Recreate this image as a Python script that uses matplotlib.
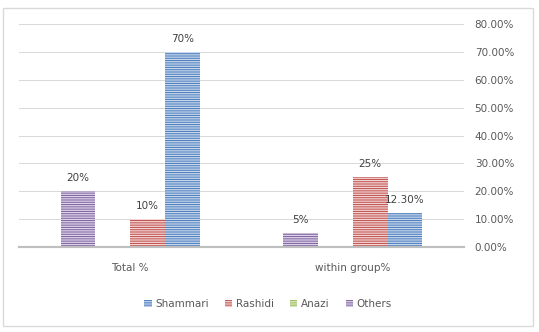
import matplotlib
matplotlib.use("Agg")
import matplotlib.pyplot as plt
from matplotlib.patches import Patch, Rectangle
import numpy as np

categories = ["Total %", "within group%"]
series_names = ["Shammari", "Rashidi", "Anazi", "Others"]
shammari = [0.70, 0.123]
rashidi = [0.10, 0.25]
anazi = [0.0, 0.0]
others = [0.20, 0.05]
value_labels = {
    "Shammari": ["70%", "12.30%"],
    "Rashidi": ["10%", "25%"],
    "Anazi": ["", ""],
    "Others": ["20%", "5%"],
}
yticks = [0.0, 0.1, 0.2, 0.3, 0.4, 0.5, 0.6, 0.7, 0.8]

colors = {"Shammari": "#4A7DBB", "Rashidi": "#C0504D", "Anazi": "#9BBB59", "Others": "#7F62A1"}
fills = {"Shammari": "#C6D6EC", "Rashidi": "#F2D4D3", "Anazi": "#DCE8C8", "Others": "#DCD2E8"}
values = {"Shammari": shammari, "Rashidi": rashidi, "Anazi": anazi, "Others": others}

DPI = 96
plt.rcParams["font.family"] = ["DejaVu Sans"]
plt.rcParams["hatch.linewidth"] = 0.75  # one pixel at 96 dpi
HATCH = "-------"  # 42 lines per inch, narrow horizontal stripes
FS = 7.8

fig = plt.figure(figsize=(539 / DPI, 332 / DPI), dpi=DPI)
ax = fig.add_axes([19 / 539, 1 - 247 / 332, 445 / 539, 223 / 332])

# outer chart frame
fig.patches.append(Rectangle((3 / 539, 1 - 326 / 332), 530 / 539, 318 / 332,
                             transform=fig.transFigure, fill=False,
                             edgecolor="#D9D9D9", linewidth=1.0))

x = np.arange(len(categories))
gap = 2.4
bw = 1.0 / (4 + gap)
draw_order = ["Others", "Anazi", "Rashidi", "Shammari"]
for i, name in enumerate(draw_order):
    offs = (i - 1.5) * bw
    ax.bar(x + offs, values[name], width=bw, color=fills[name],
           edgecolor=colors[name], hatch=HATCH, linewidth=0, zorder=3)
    for xi, v, lab in zip(x, values[name], value_labels[name]):
        if lab:
            ax.annotate(lab, (xi + offs, v), xytext=(0, 6), textcoords="offset points",
                        ha="center", va="bottom", fontsize=FS, color="#404040")

ax.set_xlim(-0.5, 1.5)
ax.set_ylim(0, 0.8)
ax.set_yticks(yticks)
ax.set_yticklabels([f"{t*100:.2f}%" for t in yticks])
ax.yaxis.tick_right()
ax.tick_params(axis="y", length=0, pad=8, labelsize=FS, labelcolor="#595959")
ax.set_xticks(x)
ax.set_xticklabels(categories)
ax.tick_params(axis="x", length=0, pad=12, labelsize=FS, labelcolor="#595959")
ax.grid(axis="y", color="#D9D9D9", linewidth=0.75, zorder=0)
for s in ["top", "left", "right"]:
    ax.spines[s].set_visible(False)
ax.spines["bottom"].set_color("#BFBFBF")
ax.spines["bottom"].set_linewidth(1.6)
ax.spines["bottom"].set_zorder(4)

handles = [Patch(facecolor=fills[n], edgecolor=colors[n], hatch=HATCH, linewidth=0)
           for n in series_names]
fig.legend(handles, series_names, loc="center", bbox_to_anchor=(268 / 539, 1 - 304 / 332),
           ncol=4, frameon=False, fontsize=FS, handlelength=0.7, handleheight=0.7,
           handletextpad=0.3, columnspacing=1.6, labelcolor="#595959")

fig.savefig("out.png", dpi=DPI)
